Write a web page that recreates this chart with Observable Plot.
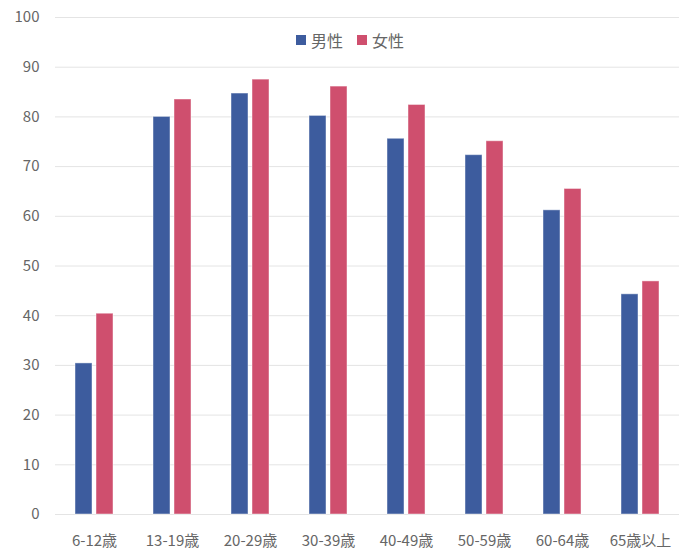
<!DOCTYPE html>
<html>
<head>
<meta charset="utf-8">
<script src="https://cdn.jsdelivr.net/npm/d3@7"></script>
<script src="https://cdn.jsdelivr.net/npm/@observablehq/plot@0.6"></script>
<style>
  body { margin: 0; background: #fff; font-family: "Noto Sans CJK JP", "Noto Sans", sans-serif; }
  #wrap { position: relative; width: 688px; height: 552px; }
  #legend { position: absolute; left: 296px; top: 28px; display: flex; align-items: center; font-size: 16px; color: #666; font-family: "Noto Sans CJK JP", sans-serif; }
  #legend .sw { width: 10px; height: 10px; display: inline-block; margin-right: 5px; }
  #legend .item { display: flex; align-items: center; margin-right: 14px; }
</style>
</head>
<body>
<div id="wrap"><div id="legend"></div></div>
<script>
const categories = ["6-12歳", "13-19歳", "20-29歳", "30-39歳", "40-49歳", "50-59歳", "60-64歳", "65歳以上"];
const seriesNames = ["男性", "女性"];
const maleValues = [30.4, 80.0, 84.7, 80.2, 75.6, 72.3, 61.2, 44.3];
const femaleValues = [40.4, 83.5, 87.5, 86.1, 82.4, 75.1, 65.5, 46.9];
const yTicks = [0, 10, 20, 30, 40, 50, 60, 70, 80, 90, 100];
const colors = ["#3D5C9E", "#CF4F6E"];

const data = [];
categories.forEach((c, i) => {
  data.push({cat: c, sex: seriesNames[0], value: maleValues[i]});
  data.push({cat: c, sex: seriesNames[1], value: femaleValues[i]});
});

const chart = Plot.plot({
  width: 688,
  height: 552,
  marginLeft: 54,
  marginRight: 9,
  marginTop: 17,
  marginBottom: 38,
  style: {fontSize: "15px", color: "#666", fontFamily: "'Noto Sans CJK JP', 'Noto Sans', sans-serif", background: "#fff"},
  fx: {domain: categories, padding: 0, tickSize: 0, tickPadding: 21, label: null},
  x: {domain: seriesNames, paddingInner: 0.2, paddingOuter: 0.875, axis: null},
  y: {domain: [0, 100], ticks: yTicks, tickSize: 0, tickPadding: 16, label: null},
  color: {domain: seriesNames, range: colors},
  marks: [
    Plot.ruleY(yTicks, {stroke: "#e4e4e4", strokeWidth: 1}),
    Plot.barY(data, {fx: "cat", x: "sex", y: "value", fill: "sex", stroke: "#ffffff", strokeOpacity: 0.45, strokeWidth: 1})
  ]
});
document.getElementById("wrap").prepend(chart);

const legend = document.getElementById("legend");
seriesNames.forEach((s, i) => {
  const item = document.createElement("div");
  item.className = "item";
  const sw = document.createElement("span");
  sw.className = "sw";
  sw.style.background = colors[i];
  const t = document.createElement("span");
  t.textContent = s;
  item.append(sw, t);
  legend.append(item);
});
</script>
</body>
</html>
